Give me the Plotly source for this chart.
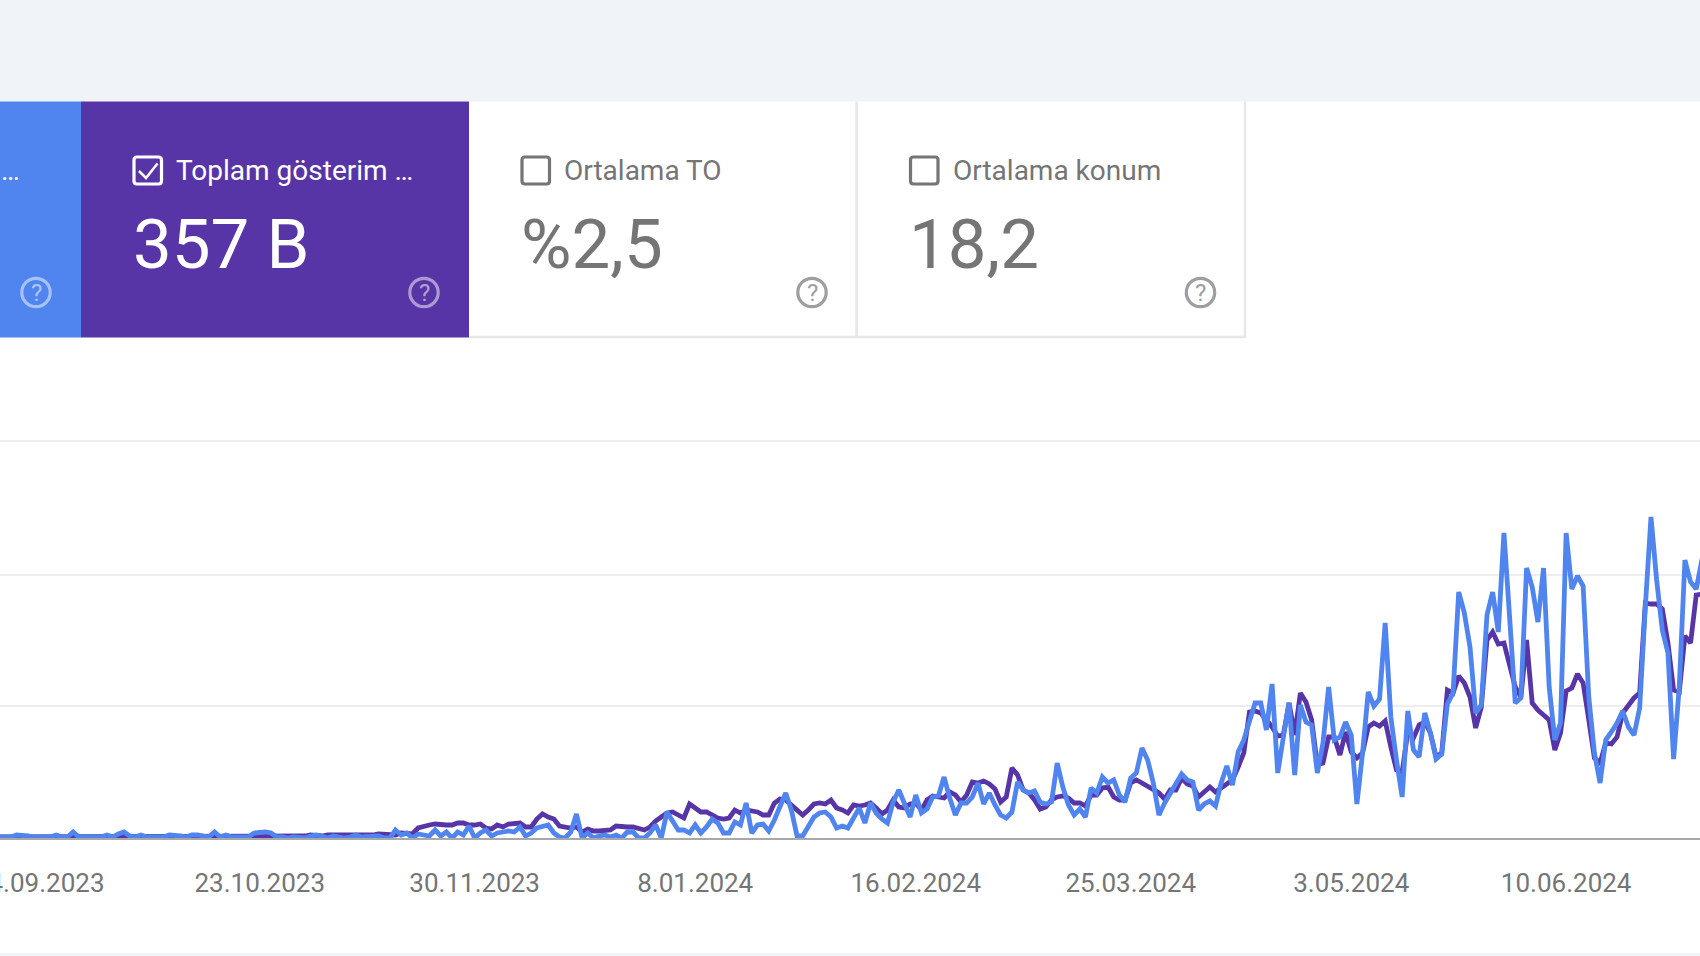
import pandas as pd
import plotly.graph_objects as go

W, H = 1700, 956

clicks = [
 1,1,1,3,3,2,1,1,1,1, 3,1,1,6,1,1,1,1,1,3, 1,4,6,2,1,3,1,1,1,1, 3,3,2,1,3,3,2,1,6,1, 3,1,1,1,1,5,6,6,5,1,
 1,0,1,1,0,2,3,2,0,2, 1,0,1,3,1,1,1,2,0,0, 8,3,5,0,4,3,2,8,2,6, 0,6,3,12,0,5,8,2,5,6, 7,6,11,2,5,10,11,13,5,1,
 0,6,24,0,5,0,2,3,1,3, 0,6,6,0,0,5,13,0,26,16, 8,8,5,13,5,11,19,15,5,5, 16,13,35,5,13,14,7,18,31,45, 28,2,2,11,21,25,26,21,10,
 12,10,20,30,15,35,25,19,15,36, 48,35,21,43,25,29,41,42,61,40, 23,35,35,41,55,34,45,33,23,20, 26,56,48,45,47,36,34,36,75,51, 33,23,29,21,50,45,61,55,58,43,
 36,60,65,90,78,55,23,35,45,56, 64,58,56,28,34,37,32,55,72,53, 86,98,118,135,135,108,154,65,101,135, 63,133,116,113,65,95,151,98,101,116, 103,34,85,146,132,139,215,121,78,
 41,127,88,81,125,105,79,84,134,145, 246,225,191,125,133,223,246,206,305,221, 135,140,270,251,216,270,151,98,115,305, 249,262,252,141,85,55,98,106,115,127, 111,103,130,231,321,258,208,185,79,151, 278,256,249,278,280,
]

impressions = [
 1,1,1,1,1,1,1,1,1,1, 1,1,1,1,1,1,1,1,1,1, 1,1,1,1,1,1,1,1,1,1, 1,1,1,1,1,1,1,1,1,1, 1,1,1,1,1,2,2,2,2,2,
 2,2,2,2,2,3,2,2,3,3, 2,3,3,2,2,2,3,4,4,3, 3,5,5,4,
 10,12,13,14,13,13,13,15,15,13,13,14,10,9,13,11,14,14,15,11,11,19,24,21,19,12,
 11,10,11,6,9,7,7,7,8,12, 11,11,11,9,8,11,17,21,25,26, 23,20,34,30,26,26,23,20,19,20, 28,25,28,27,26,23,23,35,39,38, 33,27,23,28,34,35,34,38,30,
 28,25,33,32,33,35,30,24,28,38, 31,30,34,35,28,38,42,41,40,46, 43,36,43,56,55,57,54,49,36,41, 70,63,48,45,38,29,31,38,41,42, 40,35,35,32,43,43,50,51,41,38,
 38,55,58,55,52,49,45,39,48,48, 60,54,52,41,46,51,46,50,55,58, 71,85,126,127,125,118,111,102,103,135, 103,145,136,118,73,75,101,101,83,106, 86,80,85,111,115,112,117,91,68,
 66,106,100,113,116,105,81,85,148,145, 162,155,141,110,131,198,206,194,195,175, 151,141,198,135,128,123,118,88,105,147, 150,164,155,118,80,75,95,94,101,125, 133,140,145,235,234,234,229,195,148,146, 202,195,243,244,250,
]

tick_dates = ["2023-09-14", "2023-10-23", "2023-11-30", "2024-01-08",
              "2024-02-16", "2024-03-25", "2024-05-03", "2024-06-10"]
tick_labels = ["14.09.2023", "23.10.2023", "30.11.2023", "8.01.2024",
               "16.02.2024", "25.03.2024", "3.05.2024", "10.06.2024"]
grid_values = [132, 263, 397]

card_titles = ["Toplam gösterim …", "Ortalama TO", "Ortalama konum"]
card_values = ["357 B", "%2,5", "18,2"]

BLUE, PURPLE = "#5084ee", "#5835a6"
GRAY, LIGHT = "#757575", "#e6e6e6"
STRIP = "#f0f4f9"
FONT = "Roboto"

dates = pd.date_range("2023-09-07", periods=len(clicks), freq="D")
assert len(clicks) == len(impressions)

def X(p): return p / W
def Y(p): return 1 - p / H

def rect(x0, y0, x1, y1, fill, line=None, lw=0):
    return dict(type="rect", xref="paper", yref="paper", x0=X(x0), x1=X(x1), y0=Y(y1), y1=Y(y0),
                fillcolor=fill, line=dict(color=line or fill, width=lw))

def hline(x0, x1, y, color, lw):
    return dict(type="line", xref="paper", yref="paper", x0=X(x0), x1=X(x1), y0=Y(y), y1=Y(y),
                line=dict(color=color, width=lw))

def vline(x, y0, y1, color, lw):
    return dict(type="line", xref="paper", yref="paper", x0=X(x), x1=X(x), y0=Y(y0), y1=Y(y1),
                line=dict(color=color, width=lw))

def box(x0, y0, x1, y1, color, r=3):
    d = (f"M {X(x0+r)} {Y(y0)} L {X(x1-r)} {Y(y0)} Q {X(x1)} {Y(y0)} {X(x1)} {Y(y0+r)} "
         f"L {X(x1)} {Y(y1-r)} Q {X(x1)} {Y(y1)} {X(x1-r)} {Y(y1)} "
         f"L {X(x0+r)} {Y(y1)} Q {X(x0)} {Y(y1)} {X(x0)} {Y(y1-r)} "
         f"L {X(x0)} {Y(y0+r)} Q {X(x0)} {Y(y0)} {X(x0+r)} {Y(y0)} Z")
    return dict(type="path", xref="paper", yref="paper", path=d, line=dict(color=color, width=3.2))

def circle(cx, cy, r, color):
    return dict(type="circle", xref="paper", yref="paper", x0=X(cx-r), x1=X(cx+r),
                y0=Y(cy+r), y1=Y(cy-r), line=dict(color=color, width=3.2))

def text(x, y, s, size, color, anchor="left"):
    return dict(xref="paper", yref="paper", x=X(x), y=Y(y), text=s, showarrow=False,
                xanchor=anchor, yanchor="middle", font=dict(family=FONT, size=size, color=color),
                borderpad=0, borderwidth=0)

shapes = [
    rect(0, 0, W, 101.5, STRIP),
    rect(0, 953, W, H, STRIP),
    rect(0, 101.5, 81, 337.5, BLUE),
    rect(81, 101.5, 469, 337.5, PURPLE),
    hline(469, 1246, 337, LIGHT, 2.4),
    vline(856.5, 101.5, 337, LIGHT, 2.4),
    vline(1245, 101.5, 337, LIGHT, 2.4),
    box(134, 157, 161.5, 184, "white"),
    dict(type="path", xref="paper", yref="paper",
         path=f"M {X(139)} {Y(171)} L {X(146)} {Y(178)} L {X(157.5)} {Y(163.5)}",
         line=dict(color="white", width=2.5)),
    box(522, 157, 549.5, 184, GRAY),
    box(910.5, 157, 938, 184, GRAY),
    circle(36, 292.5, 14.2, "rgba(255,255,255,0.5)"),
    circle(424, 292.5, 14.2, "rgba(255,255,255,0.5)"),
    circle(812, 292.5, 14.2, "#9e9e9e"),
    circle(1200.5, 292.5, 14.2, "#9e9e9e"),
]

title_x = [175.5, 564, 952.5]
value_x = [132.5, 521, 908.5]
title_colors = ["white", GRAY, GRAY]
annotations = [text(1, 170.5, "…", 28, "white")]
for tx, vx, t, v, c in zip(title_x, value_x, card_titles, card_values, title_colors):
    annotations.append(text(tx, 170.5, t, 28, c))
    annotations.append(text(vx, 245, v, 69, c))
for cx, col in [(36, "rgba(255,255,255,0.55)"), (424, "rgba(255,255,255,0.55)"), (812, "#9e9e9e"), (1200.5, "#9e9e9e")]:
    annotations.append(text(cx, 292.5, "?", 24, col, "center"))

fig = go.Figure()
fig.add_trace(go.Scatter(x=dates, y=impressions, mode="lines", name="Toplam gösterim",
                         line=dict(color=PURPLE, width=4.8, shape="linear"), cliponaxis=False))
fig.add_trace(go.Scatter(x=dates, y=clicks, mode="lines", name="Toplam tıklama",
                         line=dict(color=BLUE, width=4.8, shape="linear"), cliponaxis=False))

fig.update_layout(
    width=W, height=H, autosize=False,
    margin=dict(l=0, r=0, t=0, b=0, pad=0),
    paper_bgcolor="white", plot_bgcolor="white",
    showlegend=False,
    font=dict(family=FONT),
    shapes=shapes, annotations=annotations,
    xaxis=dict(type="date", domain=[0, 1], range=["2023-09-07 01:42", "2024-07-03 16:00"],
               tickmode="array", tickvals=tick_dates, ticktext=tick_labels,
               tickfont=dict(family=FONT, size=26, color=GRAY),
               ticks="outside", ticklen=21, tickcolor="rgba(0,0,0,0)", tickwidth=1,
               ticklabeloverflow="allow", showgrid=False, zeroline=False,
               showline=True, linecolor="#a8a8a8", linewidth=2, automargin=False),
    yaxis=dict(domain=[(H - 838) / H, 1], range=[0, 838],
               tickmode="array", tickvals=grid_values, showticklabels=False,
               showgrid=True, gridcolor="#eeeeee", gridwidth=2.4, zeroline=False,
               showline=False, ticks="", automargin=False),
)

fig.write_html("out.html", config=dict(displayModeBar=False),
               post_script="document.body.style.margin='0';document.body.style.overflow='hidden';")
